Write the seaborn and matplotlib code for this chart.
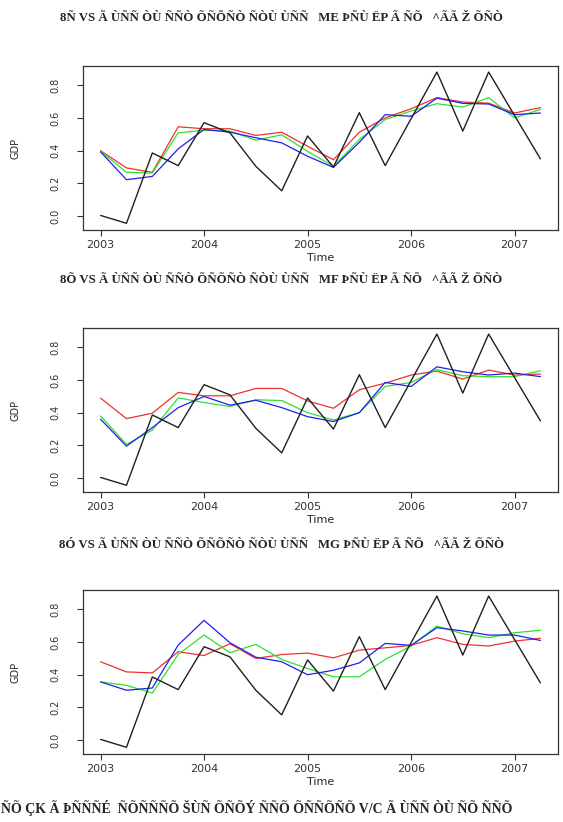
import numpy as np
import pandas as pd
import matplotlib
matplotlib.use("Agg")
import matplotlib.pyplot as plt
import seaborn as sns

# ------------------------------
# Data (quarterly, 2003 Q1 .. 2007 Q2)
# ------------------------------
time = [2003 + q * 0.25 for q in range(18)]

actual = [0.005, -0.043, 0.386, 0.309, 0.571, 0.509, 0.305, 0.155, 0.49,
          0.30, 0.632, 0.309, 0.595, 0.88, 0.52, 0.88, 0.615, 0.35]

# panel 1
red1 = [0.40, 0.295, 0.268, 0.546, 0.534, 0.534, 0.493, 0.513, 0.427,
        0.345, 0.513, 0.60, 0.656, 0.724, 0.697, 0.69, 0.63, 0.663]
green1 = [0.397, 0.268, 0.264, 0.509, 0.525, 0.52, 0.464, 0.497, 0.396,
          0.305, 0.468, 0.59, 0.642, 0.687, 0.666, 0.724, 0.60, 0.652]
blue1 = [0.393, 0.223, 0.243, 0.411, 0.53, 0.513, 0.479, 0.448, 0.366,
         0.298, 0.451, 0.62, 0.61, 0.721, 0.689, 0.685, 0.62, 0.63]

# panel 2
red2 = [0.489, 0.364, 0.397, 0.524, 0.503, 0.503, 0.548, 0.548, 0.472,
        0.427, 0.54, 0.58, 0.63, 0.654, 0.605, 0.66, 0.63, 0.636]
green2 = [0.38, 0.207, 0.294, 0.49, 0.462, 0.438, 0.479, 0.474, 0.40,
          0.356, 0.40, 0.56, 0.585, 0.663, 0.626, 0.62, 0.62, 0.656]
blue2 = [0.36, 0.196, 0.309, 0.431, 0.499, 0.446, 0.476, 0.431, 0.376,
         0.346, 0.40, 0.585, 0.56, 0.68, 0.65, 0.63, 0.642, 0.62]

# panel 3
red3 = [0.479, 0.417, 0.411, 0.54, 0.517, 0.589, 0.499, 0.523, 0.532,
        0.503, 0.55, 0.564, 0.579, 0.626, 0.585, 0.575, 0.605, 0.622]
green3 = [0.356, 0.335, 0.288, 0.524, 0.642, 0.534, 0.585, 0.493, 0.438,
          0.387, 0.387, 0.493, 0.575, 0.697, 0.65, 0.626, 0.656, 0.671]
blue3 = [0.356, 0.305, 0.319, 0.581, 0.732, 0.595, 0.507, 0.479, 0.40,
         0.427, 0.472, 0.591, 0.579, 0.687, 0.667, 0.642, 0.642, 0.609]

titles = [
    "8Ñ VS Ã ÙÑÑ ÒÙ ÑÑÒ ÕÑÕÑÒ ÑÒÙ ÙÑÑ   ME ÞÑÙ ËP Ã ÑÕ   ^ÃÃ Ž ÕÑÒ",
    "8Õ VS Ã ÙÑÑ ÒÙ ÑÑÒ ÕÑÕÑÒ ÑÒÙ ÙÑÑ   MF ÞÑÙ ËP Ã ÑÕ   ^ÃÃ Ž ÕÑÒ",
    "8Ó VS Ã ÙÑÑ ÒÙ ÑÑÒ ÕÑÕÑÒ ÑÒÙ ÙÑÑ   MG ÞÑÙ ËP Ã ÑÕ   ^ÃÃ Ž ÕÑÒ",
]
footer = "ÑÕ ÇK Ã ÞÑÑÑÉ  ÑÕÑÑÑÕ ŠÙÑ ÕÑÕÝ ÑÑÕ ÕÑÑÕÑÕ V/C Ã ÙÑÑ ÒÙ ÑÕ ÑÑÕ"

panels = [(red1, green1, blue1), (red2, green2, blue2), (red3, green3, blue3)]
colors = {"red": "#f03030", "green": "#30e030", "blue": "#2020e8", "black": "#202020"}

sns.set_style("ticks")
plt.rcParams["font.family"] = ["DejaVu Sans"]

fig = plt.figure(figsize=(5.63, 8.22), dpi=100)
W, H = 563, 822
boxes = [(66, 230), (328, 492), (590, 754)]
title_y = [18, 280, 545]

for i, ((r, g, b), (top, bot)) in enumerate(zip(panels, boxes)):
    ax = fig.add_axes([83 / W, 1 - bot / H, (558 - 83) / W, (bot - top) / H])
    df = pd.DataFrame({"Time": time, "actual": actual, "red": r, "green": g, "blue": b})
    sns.lineplot(data=df, x="Time", y="red", color=colors["red"], lw=0.9, ax=ax)
    sns.lineplot(data=df, x="Time", y="green", color=colors["green"], lw=0.9, ax=ax)
    sns.lineplot(data=df, x="Time", y="blue", color=colors["blue"], lw=0.9, ax=ax)
    sns.lineplot(data=df, x="Time", y="actual", color=colors["black"], lw=1.0, ax=ax)
    ax.set_xlim(2002.83, 2007.42)
    ax.set_ylim(-0.084, 0.917)
    ax.set_xticks([2003, 2004, 2005, 2006, 2007])
    ax.set_xticklabels(["2003", "2004", "2005", "2006", "2007"], fontsize=8)
    ax.set_yticks([0.0, 0.2, 0.4, 0.6, 0.8])
    ax.set_yticklabels(["0.0", "0.2", "0.4", "0.6", "0.8"], fontsize=7, rotation=90,
                       va="center")
    ax.tick_params(length=4, width=0.8, colors="#333333")
    ax.tick_params(axis="y", pad=12)
    for s in ax.spines.values():
        s.set_visible(True)
        s.set_linewidth(0.9)
        s.set_color("#333333")
    ax.set_xlabel("Time", fontsize=8, labelpad=2)
    ax.set_ylabel("GDP", fontsize=7, labelpad=22)
    fig.text(0.5, 1 - title_y[i] / H, titles[i], ha="center", va="center",
             fontsize=9.3, fontweight="bold", family="Liberation Serif")

fig.text(0.002, 1 - 808 / H, footer, ha="left", va="center",
         fontsize=10, fontweight="bold", family="Liberation Serif")

plt.savefig("out.png", dpi=100)
plt.close()
